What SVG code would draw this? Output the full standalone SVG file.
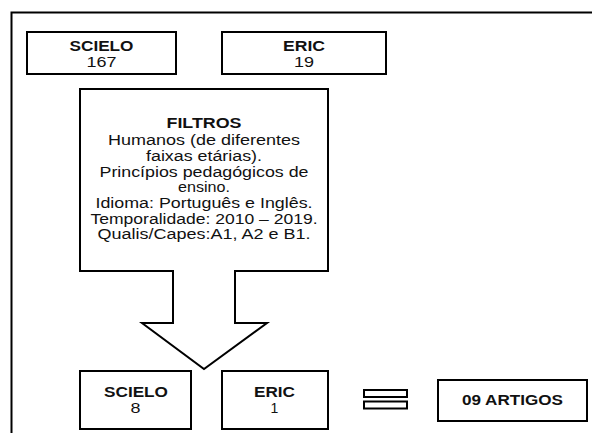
<svg xmlns="http://www.w3.org/2000/svg" width="592" height="433" viewBox="0 0 592 433">
<style>
.box{fill:#fff;stroke:#000;stroke-width:2}
.t{font-family:"Liberation Sans",Arial,sans-serif;font-size:14px;fill:#111;text-anchor:middle}
.b{font-weight:bold}
</style>
<rect width="592" height="433" fill="#fff"/>
<g id="frame">
<path d="M592,12.5 H11.5 V433" fill="none" stroke="#000" stroke-width="2"/>
</g>
<g id="scielo-top">
<rect class="box" x="27" y="32" width="149" height="42"/>
<text class="t b" x="101.5" y="51" textLength="64" lengthAdjust="spacingAndGlyphs">SCIELO</text>
<text class="t" x="101.5" y="67" textLength="30" lengthAdjust="spacingAndGlyphs">167</text>
</g>
<g id="eric-top">
<rect class="box" x="222" y="32" width="164" height="42"/>
<text class="t b" x="304" y="51" textLength="42" lengthAdjust="spacingAndGlyphs">ERIC</text>
<text class="t" x="304" y="67" textLength="20" lengthAdjust="spacingAndGlyphs">19</text>
</g>
<g id="filtros">
<path class="box" d="M80,89 H328 V271 H235 V323 H267 L204,369 L142,323 H173 V271 H80 Z" stroke-linejoin="miter"/>
<text class="t b" x="204" y="128" textLength="75" lengthAdjust="spacingAndGlyphs">FILTROS</text>
<text class="t" x="204" y="145" textLength="192" lengthAdjust="spacingAndGlyphs">Humanos (de diferentes</text>
<text class="t" x="204" y="160.5" textLength="116" lengthAdjust="spacingAndGlyphs">faixas etárias).</text>
<text class="t" x="204" y="176.5" textLength="209" lengthAdjust="spacingAndGlyphs">Princípios pedagógicos de</text>
<text class="t" x="204" y="192" textLength="52" lengthAdjust="spacingAndGlyphs">ensino.</text>
<text class="t" x="204" y="208" textLength="217" lengthAdjust="spacingAndGlyphs">Idioma: Português e Inglês.</text>
<text class="t" x="204" y="223.5" textLength="227" lengthAdjust="spacingAndGlyphs">Temporalidade: 2010 – 2019.</text>
<text class="t" x="204" y="239" textLength="213" lengthAdjust="spacingAndGlyphs">Qualis/Capes:A1, A2 e B1.</text>
</g>
<g id="scielo-bottom">
<rect class="box" x="80" y="371" width="111" height="58"/>
<text class="t b" x="136" y="396.5" textLength="64" lengthAdjust="spacingAndGlyphs">SCIELO</text>
<text class="t" x="135.5" y="413" textLength="10" lengthAdjust="spacingAndGlyphs">8</text>
</g>
<g id="eric-bottom">
<rect class="box" x="222" y="371" width="106" height="58"/>
<text class="t b" x="274.5" y="396.5" textLength="41" lengthAdjust="spacingAndGlyphs">ERIC</text>
<text class="t" x="274.5" y="413">1</text>
</g>
<g id="equals">
<rect class="box" x="364" y="390" width="43" height="7"/>
<rect class="box" x="364" y="401.5" width="43" height="7"/>
</g>
<g id="artigos">
<rect class="box" x="438" y="380" width="149" height="41"/>
<text class="t b" x="512.5" y="405" textLength="101" lengthAdjust="spacingAndGlyphs">09 ARTIGOS</text>
</g>
</svg>
